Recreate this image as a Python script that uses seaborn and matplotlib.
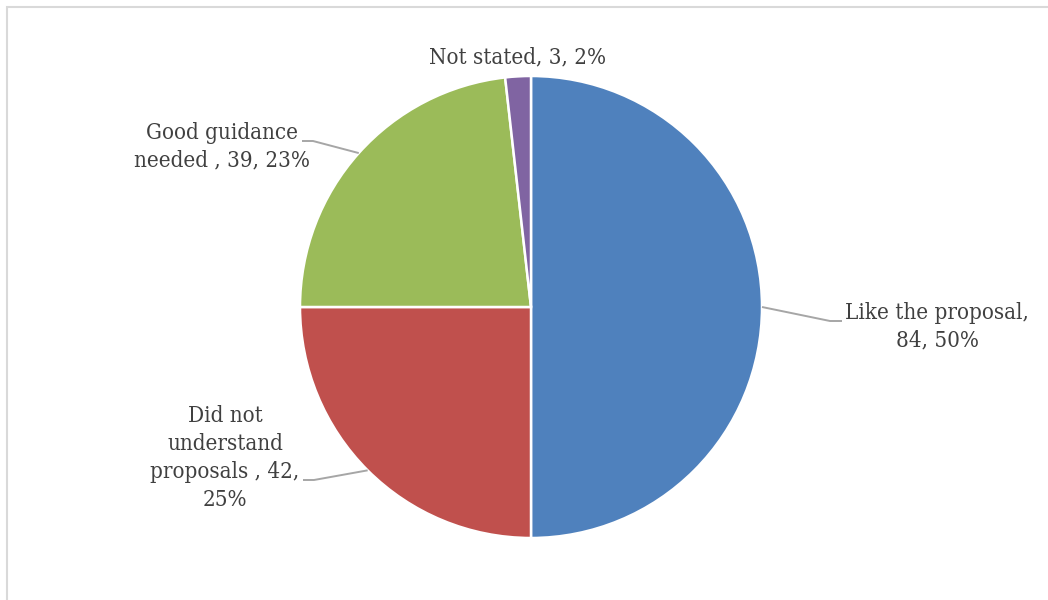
import numpy as np
import matplotlib
matplotlib.use("Agg")
import matplotlib.pyplot as plt
from matplotlib.patches import Rectangle
import seaborn as sns

# Survey responses
categories = ["Like the proposal", "Did not\nunderstand\nproposals ", "Good guidance\nneeded ", "Not stated"]
counts = [84, 42, 39, 3]
percents = [50, 25, 23, 2]
colors = ["#4F81BD", "#C0504D", "#9BBB59", "#8064A2"]

sns.set_theme(style="white")
plt.rcParams["font.family"] = ["DejaVu Serif"]

W, H = 1048, 600
fig = plt.figure(figsize=(W / 100, H / 100), dpi=100)
ax = fig.add_axes([0, 0, 1, 1])

cx, cy, r = 531, H - 307, 231
wedges, _ = ax.pie(counts, colors=colors, startangle=90, counterclock=False,
                   center=(cx, cy), radius=r,
                   wedgeprops=dict(edgecolor="white", linewidth=1.8))
ax.set_xlim(0, W)
ax.set_ylim(0, H)
ax.set_aspect("equal")
ax.axis("off")

# chart frame
fig.patches.append(Rectangle((6.5 / W, -0.1), 1.2, (H - 6.5) / H + 0.1,
                             transform=fig.transFigure, fill=False,
                             edgecolor="#D9D9D9", linewidth=1.5))

texts = []
for cat, n, p in zip(categories, counts, percents):
    if cat.startswith("Like"):
        texts.append(f"{cat},\n{n}, {p}%")
    elif cat.startswith("Did"):
        texts.append(f"{cat}, {n},\n{p}%")
    else:
        texts.append(f"{cat}, {n}, {p}%")

# label centres and leader elbows (elbow, line end)
label_pos = [(937, 327), (225, 458), (222, 147), (518, 57)]
elbows = [((830, 321), (842, 321)), ((314, 480), (303, 480)),
          ((313, 141), (302, 141)), None]

for w, txt, pos, elb in zip(wedges, texts, label_pos, elbows):
    mid = np.deg2rad((w.theta1 + w.theta2) / 2)
    ex, ey = cx + r * np.cos(mid), cy + r * np.sin(mid)
    ax.text(pos[0], H - pos[1], txt, ha="center", va="center",
            fontsize=16, fontstretch="condensed", color="#404040",
            linespacing=1.34)
    if elb is not None:
        xs = [ex, elb[0][0], elb[1][0]]
        ys = [ey, H - elb[0][1], H - elb[1][1]]
        ax.plot(xs, ys, color="#A6A6A6", linewidth=1.4, solid_capstyle="butt")

fig.savefig("out.png", dpi=100, facecolor="white")
